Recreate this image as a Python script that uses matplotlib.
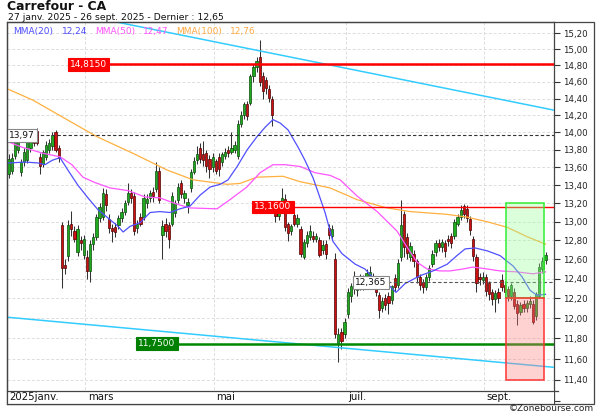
import numpy as np
import matplotlib
matplotlib.use("Agg")
import matplotlib.pyplot as plt
from matplotlib.patches import Rectangle
from matplotlib import transforms
from matplotlib.ticker import FixedLocator, NullLocator, FixedFormatter

# --- daily candles, 27 Jan 2025 -> 26 Sep 2025 (index = trading day) ---
opens = [13.53, 13.56, 13.73, 13.80, 13.55, 13.66, 13.68, 13.82, 13.96, 14.02,
         13.72, 13.64, 13.72, 13.80, 13.84, 14.00, 13.82, 12.96, 12.54, 12.64,
         12.98, 12.90, 12.68, 12.80, 12.65, 12.63, 12.48, 12.76, 12.84, 13.04,
         13.05, 13.30, 13.03, 12.93, 12.94, 12.96, 13.04, 13.11, 13.21, 13.31,
         13.28, 12.93, 13.05, 13.05, 13.20, 13.26, 13.32, 13.36, 13.56, 12.86,
         12.98, 12.97, 12.98, 13.10, 13.24, 13.42, 13.26, 13.18, 13.37, 13.55,
         13.68, 13.82, 13.75, 13.76, 13.70, 13.60, 13.67, 13.72, 13.66, 13.73,
         13.80, 13.78, 13.80, 13.73, 14.10, 14.20, 14.33, 14.35, 14.67, 14.78,
         14.90, 14.67, 14.62, 14.52, 14.39, 13.16, 13.06, 13.14, 13.25, 12.98,
         12.90, 13.07, 12.98, 12.92, 12.63, 12.77, 12.84, 12.85, 12.82, 12.80,
         12.70, 12.76, 12.93, 12.85, 12.60, 11.76, 11.86, 11.84, 12.04, 12.22,
         12.42, 12.28, 12.33, 12.38, 12.40, 12.40, 12.42, 12.34, 12.23, 12.10,
         12.20, 12.22, 12.18, 12.41, 12.33, 12.62, 13.08, 12.84, 12.62, 12.66,
         12.58, 12.42, 12.37, 12.31, 12.42, 12.55, 12.68, 12.77, 12.73, 12.77,
         12.82, 12.85, 12.85, 12.98, 13.05, 13.17, 13.14, 13.03, 12.82, 12.63,
         12.42, 12.39, 12.42, 12.36, 12.26, 12.19, 12.26, 12.39, 12.34, 12.29,
         12.22, 12.26, 12.14, 12.06, 12.14, 12.10, 12.14, 12.14, 12.02, 12.22,
         12.50, 12.59]
highs = [13.75, 13.76, 13.95, 13.96, 13.70, 13.82, 13.94, 13.95, 14.00, 14.05,
         13.76, 13.80, 13.90, 13.92, 14.00, 14.03, 13.85, 13.00, 12.60, 13.02,
         13.12, 12.95, 12.96, 12.85, 12.86, 12.70, 12.80, 12.88, 13.08, 13.20,
         13.37, 13.36, 13.08, 12.98, 12.99, 13.07, 13.15, 13.24, 13.42, 13.36,
         13.32, 13.02, 13.10, 13.30, 13.30, 13.35, 13.38, 13.66, 13.60, 13.02,
         13.04, 13.00, 13.32, 13.24, 13.42, 13.46, 13.35, 13.26, 13.58, 13.72,
         13.84, 13.88, 13.90, 13.80, 13.74, 13.76, 13.70, 13.76, 13.78, 13.82,
         13.84, 14.00, 13.90, 14.15, 14.25, 14.36, 14.37, 14.70, 14.82, 14.90,
         15.12, 14.72, 14.66, 14.56, 14.43, 13.22, 13.18, 13.37, 13.30, 13.00,
         12.98, 13.10, 13.08, 12.95, 12.82, 12.90, 12.96, 12.90, 12.88, 12.84,
         12.80, 12.80, 12.98, 12.96, 12.67, 11.90, 11.90, 12.00, 12.30, 12.36,
         12.48, 12.38, 12.45, 12.44, 12.50, 12.53, 12.46, 12.37, 12.26, 12.21,
         12.24, 12.26, 12.34, 12.45, 12.60, 13.24, 13.12, 12.88, 12.78, 12.70,
         12.60, 12.45, 12.40, 12.45, 12.54, 12.70, 12.80, 12.82, 12.82, 12.80,
         12.86, 12.88, 13.03, 13.08, 13.18, 13.19, 13.18, 13.06, 12.85, 12.66,
         12.46, 12.47, 12.45, 12.38, 12.29, 12.28, 12.30, 12.45, 12.38, 12.32,
         12.36, 12.30, 12.18, 12.16, 12.18, 12.18, 12.22, 12.18, 12.26, 12.56,
         12.62, 12.68]
lows = [13.48, 13.52, 13.70, 13.76, 13.50, 13.62, 13.65, 13.78, 13.84, 13.85,
        13.52, 13.60, 13.68, 13.76, 13.80, 13.77, 13.66, 12.30, 12.45, 12.58,
        12.85, 12.78, 12.64, 12.70, 12.60, 12.40, 12.37, 12.70, 12.80, 13.00,
        13.02, 13.12, 12.88, 12.78, 12.84, 12.92, 13.00, 13.07, 13.18, 13.20,
        12.86, 12.88, 12.95, 13.02, 13.15, 13.22, 13.22, 13.32, 13.20, 12.60,
        12.84, 12.72, 12.95, 13.05, 13.20, 13.26, 13.20, 13.10, 13.33, 13.52,
        13.64, 13.65, 13.62, 13.55, 13.48, 13.55, 13.52, 13.50, 13.62, 13.70,
        13.72, 13.75, 13.76, 13.70, 14.06, 14.16, 14.15, 14.32, 14.60, 14.72,
        14.55, 14.40, 14.45, 14.36, 14.07, 13.00, 13.02, 13.10, 12.90, 12.79,
        12.86, 12.95, 12.94, 12.62, 12.60, 12.73, 12.80, 12.78, 12.78, 12.62,
        12.66, 12.60, 12.82, 12.80, 11.80, 11.57, 11.70, 11.80, 12.00, 12.16,
        12.24, 12.22, 12.28, 12.28, 12.36, 12.37, 12.30, 12.22, 12.00, 12.06,
        12.08, 12.04, 12.14, 12.27, 12.30, 12.58, 12.62, 12.60, 12.58, 12.52,
        12.36, 12.28, 12.25, 12.28, 12.38, 12.52, 12.64, 12.69, 12.68, 12.62,
        12.74, 12.72, 12.82, 12.95, 13.02, 13.04, 13.00, 12.86, 12.58, 12.26,
        12.34, 12.35, 12.22, 12.18, 12.13, 12.06, 12.15, 12.27, 12.20, 12.17,
        12.18, 12.09, 11.93, 12.03, 12.06, 12.06, 12.10, 11.94, 11.98, 12.20,
        12.46, 12.55]
closes = [13.69, 13.71, 13.90, 13.91, 13.66, 13.78, 13.90, 13.90, 13.88, 13.88,
          13.62, 13.77, 13.86, 13.88, 13.97, 13.80, 13.71, 12.51, 12.51, 12.96,
          12.92, 12.82, 12.92, 12.77, 12.82, 12.48, 12.76, 12.84, 13.05, 13.16,
          13.31, 13.18, 12.93, 12.90, 12.89, 13.04, 13.11, 13.20, 13.31, 13.26,
          12.90, 12.98, 12.98, 13.26, 13.25, 13.31, 13.28, 13.56, 13.24, 12.95,
          12.90, 12.82, 13.28, 13.20, 13.38, 13.30, 13.31, 13.22, 13.55, 13.67,
          13.75, 13.69, 13.68, 13.62, 13.58, 13.72, 13.56, 13.58, 13.75, 13.78,
          13.76, 13.82, 13.85, 14.10, 14.21, 14.33, 14.19, 14.67, 14.78, 14.85,
          14.60, 14.49, 14.53, 14.41, 14.20, 13.06, 13.12, 13.26, 12.94, 12.88,
          12.95, 12.98, 13.04, 12.66, 12.78, 12.86, 12.90, 12.82, 12.85, 12.65,
          12.75, 12.66, 12.86, 12.92, 11.84, 11.84, 11.77, 11.96, 12.26, 12.32,
          12.30, 12.32, 12.41, 12.32, 12.46, 12.47, 12.35, 12.26, 12.08, 12.17,
          12.13, 12.15, 12.32, 12.31, 12.56, 12.96, 12.73, 12.67, 12.74, 12.58,
          12.42, 12.34, 12.31, 12.42, 12.51, 12.66, 12.77, 12.73, 12.78, 12.69,
          12.79, 12.77, 13.00, 13.05, 13.13, 13.08, 13.04, 12.91, 12.64, 12.36,
          12.40, 12.42, 12.27, 12.24, 12.19, 12.25, 12.20, 12.31, 12.26, 12.22,
          12.33, 12.12, 12.05, 12.13, 12.10, 12.15, 12.17, 11.96, 12.24, 12.52,
          12.58, 12.65]

month_labels = ["2025janv.", "mars", "mai", "juil.", "sept."]
month_start = [0, 25, 66, 108, 152]

# moving averages (trading-day index, price)
ma20_x = [0, 5.3, 9.4, 11.6, 13.9, 16.4, 18.9, 22.1, 25.3, 28.5, 31.7, 34.9, 36.5, 38.7,
          41.9, 45.1, 48.2, 51.4, 54.6, 57.8, 61.0, 64.2, 67.4, 69.9, 72.8, 76.0, 79.1,
          81.7, 84.2, 86.5, 89.0, 92.2, 94.4, 97.0, 99.2, 100.8, 103.3, 106.2, 110.4,
          113.5, 115.8, 119.9, 123.4, 126.3, 131.0, 135.2, 139.7, 142.8, 145.4, 148.6,
          152.4, 156.5, 160.7, 163.5, 166.1, 168.3, 171]
ma20_y = [13.65, 13.66, 13.65, 13.63, 13.68, 13.71, 13.57, 13.40, 13.26, 13.13, 13.04,
          12.95, 12.89, 12.95, 12.99, 13.10, 13.11, 13.10, 13.14, 13.17, 13.29, 13.38,
          13.41, 13.46, 13.61, 13.80, 13.95, 14.06, 14.15, 14.11, 14.03, 13.83, 13.68,
          13.48, 13.26, 13.10, 12.79, 12.66, 12.55, 12.50, 12.42, 12.37, 12.26, 12.35,
          12.43, 12.48, 12.55, 12.64, 12.71, 12.72, 12.69, 12.64, 12.53, 12.42, 12.28,
          12.23, 12.24]
ma50_x = [0, 4.3, 11.0, 16.4, 20.2, 23.7, 27.5, 32.3, 38.1, 43.5, 48.2, 53.7, 57.8, 66.4,
          70.5, 75.9, 80.1, 84.2, 88.1, 92.9, 97.6, 102.4, 105.6, 111.0, 117.4, 123.7,
          126.9, 130.1, 133.3, 137.4, 140.6, 144.7, 147.9, 152.4, 156.5, 161.9, 167.0, 171]
ma50_y = [13.89, 13.83, 13.76, 13.72, 13.63, 13.49, 13.43, 13.37, 13.34, 13.27, 13.26,
          13.19, 13.15, 13.14, 13.24, 13.38, 13.54, 13.63, 13.63, 13.61, 13.54, 13.51,
          13.46, 13.28, 13.11, 12.90, 12.73, 12.57, 12.50, 12.48, 12.48, 12.50, 12.52,
          12.50, 12.48, 12.47, 12.45, 12.47]
ma100_x = [0, 7.8, 18.6, 28.2, 39.6, 50.5, 58.8, 69.6, 73.7, 79.1, 87.4, 92.8, 102.4,
           111.0, 120.5, 127.9, 139.6, 146.0, 152.4, 158.8, 165.1, 171]
ma100_y = [14.51, 14.38, 14.15, 13.95, 13.76, 13.57, 13.46, 13.41, 13.42, 13.49, 13.50,
           13.44, 13.37, 13.24, 13.15, 13.11, 13.08, 13.05, 13.00, 12.94, 12.84, 12.76]
ma_last = ["12,24", "12,47", "12,76"]

# trend lines (two end points each) and horizontal levels
trend_hi_x, trend_hi_y = [20, 173.9], [15.46, 14.26]
trend_lo_x, trend_lo_y = [-0.5, 173.9], [12.01, 11.52]
support = 11.75
resist_1, resist_2 = 14.815, 13.16
ref_price, ref_price_2 = 13.97, 12.365
box_x0, box_x1 = 158.4, 170.5
box_top, box_mid, box_bot = 13.2, 12.2, 11.4

yticks = [11.2, 11.4, 11.6, 11.8, 12.0, 12.2, 12.4, 12.6, 12.8, 13.0, 13.2,
          13.4, 13.6, 13.8, 14.0, 14.2, 14.4, 14.6, 14.8, 15.0, 15.2]

W, H = 600, 413
fig = plt.figure(figsize=(W / 100, H / 100), dpi=100, facecolor="white")
ax = fig.add_axes([7 / W, (H - 404) / H, 547 / W, 382 / H])
ax.set_facecolor("white")
ax.set_yscale("log")
ax.set_ylim(11.175, 15.344)
ax.set_xlim(-0.48, 173.7)

ax.yaxis.tick_right()
ax.yaxis.set_major_locator(FixedLocator(yticks))
ax.yaxis.set_minor_locator(NullLocator())
ax.yaxis.set_major_formatter(FixedFormatter(
    ["" if v < 11.3 else f"{v:.2f}".replace(".", ",") for v in yticks]))
ax.tick_params(axis="y", which="both", length=4, width=0.8, color="#333333",
               labelsize=6.2, pad=2.5, labelcolor="#222222")
ax.set_xticks([])
for s in ax.spines.values():
    s.set_color("#444444")
    s.set_linewidth(0.9)

# grid
for v in yticks:
    ax.axhline(v, color="#dddddd", lw=0.7, ls=(0, (3, 2)), zorder=0)
for m in month_start[1:]:
    ax.axvline(m - 0.5, color="#dddddd", lw=0.7, ls=(0, (3, 2)), zorder=0)

# candles
x = np.arange(len(closes))
o, h, l, c = map(np.array, (opens, highs, lows, closes))
up = c >= o
ax.vlines(x, l, h, color="#333333", lw=0.75, zorder=2)
bot = np.minimum(o, c)
top = np.maximum(o, c)
ax.bar(x[up], top[up] - bot[up], bottom=bot[up], width=0.72,
       color="#1faa1f", edgecolor="#0b4d0b", lw=0.5, zorder=2.5)
ax.bar(x[~up], top[~up] - bot[~up], bottom=bot[~up], width=0.72,
       color="#cc1111", edgecolor="#4d0000", lw=0.5, zorder=2.5)

# moving averages
ax.plot(ma100_x, ma100_y, color="#ffb040", lw=0.9, zorder=3)
ax.plot(ma50_x, ma50_y, color="#ff55ff", lw=0.9, zorder=3)
ax.plot(ma20_x, ma20_y, color="#4f4fff", lw=0.9, zorder=3)

# trend lines
ax.plot(trend_hi_x, trend_hi_y, color="#33ccff", lw=1.1, zorder=3.5)
ax.plot(trend_lo_x, trend_lo_y, color="#33ccff", lw=1.1, zorder=3.5)

# horizontal levels
xr = 173.7
ax.plot([25.5, xr], [resist_1, resist_1], color="#ff0000", lw=1.8, zorder=4)
ax.plot([84.2, xr], [resist_2, resist_2], color="#ff0000", lw=1.0, zorder=4)
ax.plot([47.3, xr], [support, support], color="#008800", lw=1.8, zorder=4)
ax.plot([-0.5, xr], [ref_price, ref_price], color="#333333", lw=0.8,
        ls=(0, (3, 2)), zorder=4)
ax.plot([115.4, xr], [ref_price_2, ref_price_2], color="#555555", lw=0.8,
        ls=(0, (3, 2)), zorder=4)

# target / stop boxes
ax.add_patch(Rectangle((box_x0, box_mid), box_x1 - box_x0, box_top - box_mid,
                       fc=(0.6, 1.0, 0.6, 0.35), ec="#33ee33", lw=1.1, zorder=4.5))
ax.add_patch(Rectangle((box_x0, box_bot), box_x1 - box_x0, box_mid - box_bot,
                       fc=(1.0, 0.5, 0.5, 0.35), ec="#ff3333", lw=1.1, zorder=4.5))


def tag(xi, yv, txt, fc, ec, tc):
    ax.text(xi, yv, txt, color=tc, fontsize=6.5, ha="center", va="center", zorder=6,
            bbox=dict(boxstyle="square,pad=0.22", fc=fc, ec=ec, lw=0.8))


tag(25.5, resist_1, "14,8150", "#ff0000", "#ff0000", "white")
tag(84.2, resist_2, "13,1600", "#ff0000", "#ff0000", "white")
tag(47.3, support, "11,7500", "#008000", "#008000", "white")
tag(4.3, ref_price, "13,97", "white", "#888888", "#111111")
tag(115.4, ref_price_2, "12,365", "white", "#888888", "#111111")

# date band at the bottom of the panel
band_h = 13 / 382
ax.add_patch(Rectangle((0, 0), 1, band_h, transform=ax.transAxes,
                       fc="white", ec="none", zorder=7))
ax.plot([0, 1.0073], [band_h, band_h], transform=ax.transAxes, color="#444444",
        lw=0.9, zorder=7.5, clip_on=False)
btr = transforms.blended_transform_factory(ax.transData, ax.transAxes)
for m, lab in zip(month_start, month_labels):
    ax.text(m - 0.5 + 0.7, band_h / 2, lab, transform=btr, fontsize=7.3,
            ha="left", va="center", color="#111111", zorder=8)

# outer frame
fig.add_artist(Rectangle((7 / W, 9 / H), 587 / W, 382 / H, transform=fig.transFigure,
                         fill=False, ec="#444444", lw=0.9))

# titles
fig.text(7 / W, 1 - 9.5 / H, "Carrefour - CA", fontsize=8.9, fontweight="bold",
         va="baseline", ha="left", color="#111111")
fig.text(8 / W, 1 - 19.5 / H, "27 janv. 2025 - 26 sept. 2025 - Dernier : 12,65",
         fontsize=6.7, va="baseline", ha="left", color="#111111")

# legend
leg = [(13, "MMA(20)", "#4f4fff"), (62, ma_last[0], "#4f4fff"),
       (95, "MMA(50)", "#ff55ff"), (143, ma_last[1], "#ff55ff"),
       (176, "MMA(100)", "#ffaa44"), (230, ma_last[2], "#ffaa44")]
for px, txt, col in leg:
    fig.text(px / W, 1 - 34 / H, txt, fontsize=6.5, color=col, va="baseline",
             ha="left", zorder=9)

fig.text(594 / W, 1 - 411 / H, "\u00a9Zonebourse.com", fontsize=6.5,
         ha="right", va="baseline", color="#222222")

fig.savefig("out.png", dpi=100, facecolor="white")
